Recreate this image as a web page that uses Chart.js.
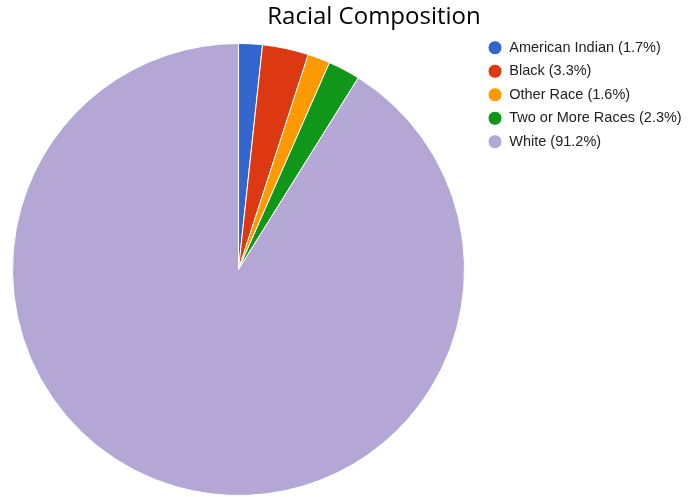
<!DOCTYPE html>
<html>
<head>
<meta charset="utf-8">
<script src="https://cdn.jsdelivr.net/npm/chart.js@4/dist/chart.umd.min.js"></script>
<style>
  html, body { margin: 0; padding: 0; background: #fff; }
  #wrap { width: 691px; height: 497px; }
</style>
</head>
<body>
<div id="wrap"><canvas id="grafico"></canvas></div>
<script>
// Composición racial (porcentajes)
const categorias = ['American Indian', 'Black', 'Other Race', 'Two or More Races', 'White'];
const porcentajes = [1.7, 3.3, 1.6, 2.3, 91.2];
const colores = ['#3366cc', '#dc3912', '#ff9900', '#109618', '#b4a7d6'];

// fija el área del pastel y la posición de la leyenda
const fijarLayout = {
  id: 'fijarLayout',
  afterLayout(chart) {
    const a = chart.chartArea;
    a.left = 12; a.top = 43;
    a.right = 465; a.bottom = 496;
    a.width = a.right - a.left;
    a.height = a.bottom - a.top;
    const lg = chart.legend;
    const w = lg.width, h = lg.height;
    lg.left = 479; lg.top = 31.5;
    lg.right = lg.left + w; lg.bottom = lg.top + h;
  }
};

const ctx = document.getElementById('grafico').getContext('2d');
new Chart(ctx, {
  type: 'pie',
  data: {
    labels: categorias.map((c, i) => c + ' (' + porcentajes[i] + '%)'),
    datasets: [{
      data: porcentajes,
      backgroundColor: colores,
      borderColor: '#ffffff',
      borderWidth: 1
    }]
  },
  options: {
    responsive: true,
    maintainAspectRatio: false,
    animation: false,
    layout: { padding: { left: 57 } },
    plugins: {
      title: {
        display: true,
        text: 'Racial Composition',
        color: '#000',
        font: { family: 'Open Sans', size: 24, weight: 'normal' },
        padding: { top: 3, bottom: 4 }
      },
      legend: {
        position: 'right',
        align: 'start',
        labels: {
          usePointStyle: true,
          pointStyle: 'circle',
          boxHeight: 10,
          pointStyleWidth: 14,
          padding: 9,
          color: '#222',
          font: { family: 'Arial', size: 14.5 }
        }
      },
      tooltip: { enabled: false }
    }
  },
  plugins: [fijarLayout]
});
</script>
</body>
</html>
